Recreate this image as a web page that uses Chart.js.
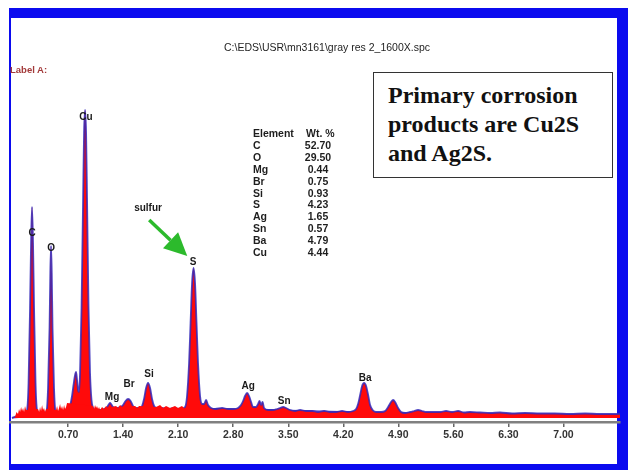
<!DOCTYPE html>
<html>
<head>
<meta charset="utf-8">
<script src="https://cdn.jsdelivr.net/npm/chart.js@4"></script>
<style>
  body { margin: 0; background: #fff; }
  #page { position: relative; width: 628px; height: 470px; overflow: hidden; background: #fff; }
  #frame { position: absolute; left: 9px; top: 8px; width: 619px; height: 462px; background: #0b0bef; }
  #inner { position: absolute; left: 11px; top: 18px; width: 606px; height: 446px; background: #fff; }
  #c { position: absolute; left: 0; top: 0; }
  .txt { position: absolute; font-family: "Liberation Sans", Arial, sans-serif; color: #1e1e1e; white-space: nowrap; }
  #title { left: 127px; width: 400px; top: 41px; text-align: center; font-size: 10.5px; }
  #labelA { left: 10px; top: 64px; font-size: 9.5px; font-weight: bold; color: #a33a3a; }
  #box { position: absolute; left: 373px; top: 72px; width: 240px; height: 106px; border: 1.5px solid #333; background: #fff;
         font-family: "Liberation Serif", "Times New Roman", serif; font-weight: bold; font-size: 24px; line-height: 29px; color: #111;
         padding: 8px 0 0 14px; box-sizing: border-box; }
  .tcell { position: absolute; font-family: "Liberation Sans", Arial, sans-serif; font-weight: bold; font-size: 10.5px; color: #1e1e1e; }
</style>
</head>
<body>
<div id="page">
  <div id="frame"></div>
  <div id="inner"></div>
  <canvas id="c" width="628" height="470"></canvas>
  <div class="txt" id="title">C:\EDS\USR\mn3161\gray res 2_1600X.spc</div>
  <div class="txt" id="labelA">Label A:</div>
  <div id="table"></div>
  <div id="box">Primary corrosion<br>products are Cu2S<br>and Ag2S.</div>
</div>
<script>
// spectrum (smoothed, outlined) - energy in keV, counts
const specEnergy = [-0.014,0.011,0.050,0.088,0.139,
  0.177,0.196,0.215,0.228,0.240,0.253,0.266,0.285,0.304,0.342,0.393,
  0.425,0.444,0.463,0.473,0.482,0.491,0.501,0.520,0.539,0.571,0.622,0.673,
  0.698,0.724,0.749,0.768,0.788,0.800,0.813,0.826,0.838,0.851,0.870,0.890,0.902,0.915,0.928,0.940,0.959,0.978,0.997,1.017,
  1.042,1.106,1.156,1.195,1.220,1.233,1.246,
  1.271,1.309,1.360,1.398,1.430,1.462,1.494,1.525,1.564,1.614,1.640,1.665,1.691,1.716,1.742,1.767,1.793,1.831,1.894,1.970,
  2.047,2.123,2.187,2.212,2.238,2.257,2.276,2.295,2.314,2.333,2.352,2.378,2.403,2.429,2.454,2.480,2.518,2.569,2.658,
  2.734,2.810,2.861,2.899,2.925,2.950,2.976,3.001,3.027,3.052,3.090,3.116,3.135,3.154,3.173,3.192,3.243,3.307,3.357,3.396,
  3.434,3.472,3.523,3.587,3.650,3.727,3.803,3.879,3.956,4.032,4.108,4.184,4.261,4.324,4.363,4.388,4.414,4.439,4.465,4.490,
  4.516,4.541,4.573,4.617,4.681,4.732,4.770,4.808,4.834,4.859,4.897,4.935,4.986,5.050,5.101,5.151,5.202,5.253,5.329,5.431,
  5.507,5.583,5.660,5.736,5.812,5.940,6.067,6.194,6.347,6.512,6.704,6.889,7.085,7.276,7.467,7.722];
const specCounts = [0,10,20,30,30,
  80,350,1100,1750,2110,1750,1100,350,80,40,40,
  70,300,900,1450,1720,1450,900,300,70,50,50,60,
  70,120,220,330,430,460,380,280,260,450,1100,2200,2850,3080,2850,2200,1100,450,180,100,
  80,80,90,110,140,150,140,
  110,100,110,130,170,190,170,120,100,100,120,190,300,350,300,190,120,100,100,90,
  100,90,110,220,550,950,1350,1500,1350,950,550,220,140,140,180,130,100,90,100,
  90,90,100,130,170,220,250,220,160,110,110,140,170,130,160,100,80,80,90,100,
  110,100,80,70,80,70,70,60,70,60,60,70,60,70,90,140,230,320,350,320,
  230,130,80,60,60,70,110,160,180,160,100,60,50,60,70,80,70,60,60,60,
  70,60,70,55,60,55,50,55,45,50,45,45,40,45,40,40];

// raw counts (noisy low-energy background)
const rawEnergy = [0.024,0.043,0.062,0.075,0.088,0.101,0.113,0.126,0.139,0.151,0.164,
  0.317,0.330,0.342,0.355,0.368,0.380,0.393,0.406,0.419,
  0.546,0.559,0.571,0.584,0.597,0.609,0.622,0.635,0.648,0.660,0.673,0.686,
  1.017,1.029,1.042,1.055,1.067,1.080,1.093,1.106,1.131,1.156,1.182,1.207,
  1.309,1.335,1.360,1.385,1.551,1.576,1.602,1.818,1.869,1.907,1.945,1.996,2.059,2.097,2.148,2.187];
const rawCounts = [10,60,40,90,60,110,70,100,60,120,80,
  90,60,110,70,130,80,100,60,90,
  80,120,70,100,140,90,120,80,130,90,110,150,
  120,90,130,100,120,90,110,80,110,90,120,100,
  120,100,130,110,120,100,120,110,130,100,120,100,120,100,120,90];

// continuum (background fit)
const bgEnergy = [-0.014,0.342,0.851,1.360,1.869,2.378,2.887,3.650,4.414,5.177,6.194,7.722];
const bgCounts = [0,20,50,75,90,95,90,75,60,50,40,35];

const xTicks = [0.70,1.40,2.10,2.80,3.50,4.20,4.90,5.60,6.30,7.00];

const peakNames = ['C','O','Cu','Mg','Br','Si','S','Ag','Sn','Ba'];
const peakLabelE = [0.240,0.482,0.927,1.258,1.474,1.729,2.288,2.989,3.447,4.477];
const peakLabelC = [1850,1700,3010,210,340,440,1560,320,170,400];

const elements = ['C','O','Mg','Br','Si','S','Ag','Sn','Ba','Cu'];
const wtPct = ['52.70','29.50','0.44','0.75','0.93','4.23','1.65','0.57','4.79','4.44'];

// sulfur arrow: text, tail and tip (keV, counts)
const sulfurText = [1.716, 2100];
const arrowTail = [1.731, 1980];
const arrowTip = [2.215, 1620];

// quant table
const table = document.getElementById('table');
function cell(text, left, top, align) {
  const d = document.createElement('div');
  d.className = 'tcell';
  d.textContent = text;
  d.style.left = left + 'px';
  d.style.top = top + 'px';
  if (align === 'c') { d.style.width = '40px'; d.style.textAlign = 'center'; }
  table.appendChild(d);
}
cell('Element', 253, 127);
cell('Wt. %', 306, 127);
elements.forEach((el, i) => {
  const top = 127 + 11.9 * (i + 1);
  cell(el, 253, top);
  cell(wtPct[i], 298, top, 'c');
});

const pts = (xs, ys) => xs.map((v, i) => ({ x: v, y: ys[i] }));

const annotations = {
  id: 'annotations',
  afterDatasetsDraw(chart) {
    const { ctx, scales: { x, y } } = chart;
    ctx.save();
    ctx.font = 'bold 10px "Liberation Sans", Arial, sans-serif';
    ctx.fillStyle = '#1a1a1a';
    ctx.textAlign = 'center';
    ctx.textBaseline = 'middle';
    peakNames.forEach((n, i) => {
      ctx.fillText(n, x.getPixelForValue(peakLabelE[i]), y.getPixelForValue(peakLabelC[i]));
    });
    ctx.fillText('sulfur', x.getPixelForValue(sulfurText[0]), y.getPixelForValue(sulfurText[1]));

    // green arrow
    const x1 = x.getPixelForValue(arrowTail[0]), y1 = y.getPixelForValue(arrowTail[1]);
    const x2 = x.getPixelForValue(arrowTip[0]), y2 = y.getPixelForValue(arrowTip[1]);
    const ang = Math.atan2(y2 - y1, x2 - x1);
    const headLen = 23, headHalf = 11;
    const bx = x2 - headLen * Math.cos(ang), by = y2 - headLen * Math.sin(ang);
    ctx.strokeStyle = '#2cba2c';
    ctx.fillStyle = '#2cba2c';
    ctx.lineWidth = 3.5;
    ctx.beginPath();
    ctx.moveTo(x1, y1);
    ctx.lineTo(bx, by);
    ctx.stroke();
    ctx.beginPath();
    ctx.moveTo(x2, y2);
    ctx.lineTo(bx + headHalf * Math.sin(ang), by - headHalf * Math.cos(ang));
    ctx.lineTo(bx - headHalf * Math.sin(ang), by + headHalf * Math.cos(ang));
    ctx.closePath();
    ctx.fill();
    ctx.restore();
  }
};

new Chart(document.getElementById('c'), {
  type: 'line',
  data: {
    datasets: [
      {
        data: pts(rawEnergy, rawCounts),
        borderWidth: 0,
        borderColor: 'rgba(0,0,0,0)',
        backgroundColor: '#ff0a0a',
        fill: 'origin',
        pointRadius: 0,
        tension: 0
      },
      {
        data: pts(specEnergy, specCounts),
        borderColor: 'rgba(50,40,185,0.85)',
        borderWidth: 1.8,
        backgroundColor: '#ff0a0a',
        fill: 'origin',
        pointRadius: 0,
        cubicInterpolationMode: 'monotone'
      },
      {
        data: pts(bgEnergy, bgCounts),
        borderColor: '#3b3bc4',
        borderWidth: 1,
        fill: false,
        pointRadius: 0,
        cubicInterpolationMode: 'monotone'
      }
    ]
  },
  options: {
    responsive: false,
    animation: false,
    layout: { padding: { left: 10, right: 8, top: 100, bottom: 0 } },
    plugins: { legend: { display: false }, tooltip: { enabled: false } },
    scales: {
      x: {
        type: 'linear',
        min: -0.04,
        max: 7.72,
        afterFit: (s) => { s.height = 48; },
        afterBuildTicks: (s) => { s.ticks = xTicks.map(v => ({ value: v })); },
        grid: { drawOnChartArea: false, drawTicks: true, tickLength: 5, color: '#666', lineWidth: 1.5 },
        border: { display: true, color: '#808080', width: 2.5 },
        ticks: {
          padding: 2,
          color: '#333',
          font: { family: '"Liberation Sans Narrow", "Liberation Sans", Arial', size: 10.5, weight: 'bold' },
          callback: (v) => Number(v).toFixed(2)
        }
      },
      y: { display: false, min: -40, max: 3180 }
    }
  },
  plugins: [annotations]
});
</script>
</body>
</html>
